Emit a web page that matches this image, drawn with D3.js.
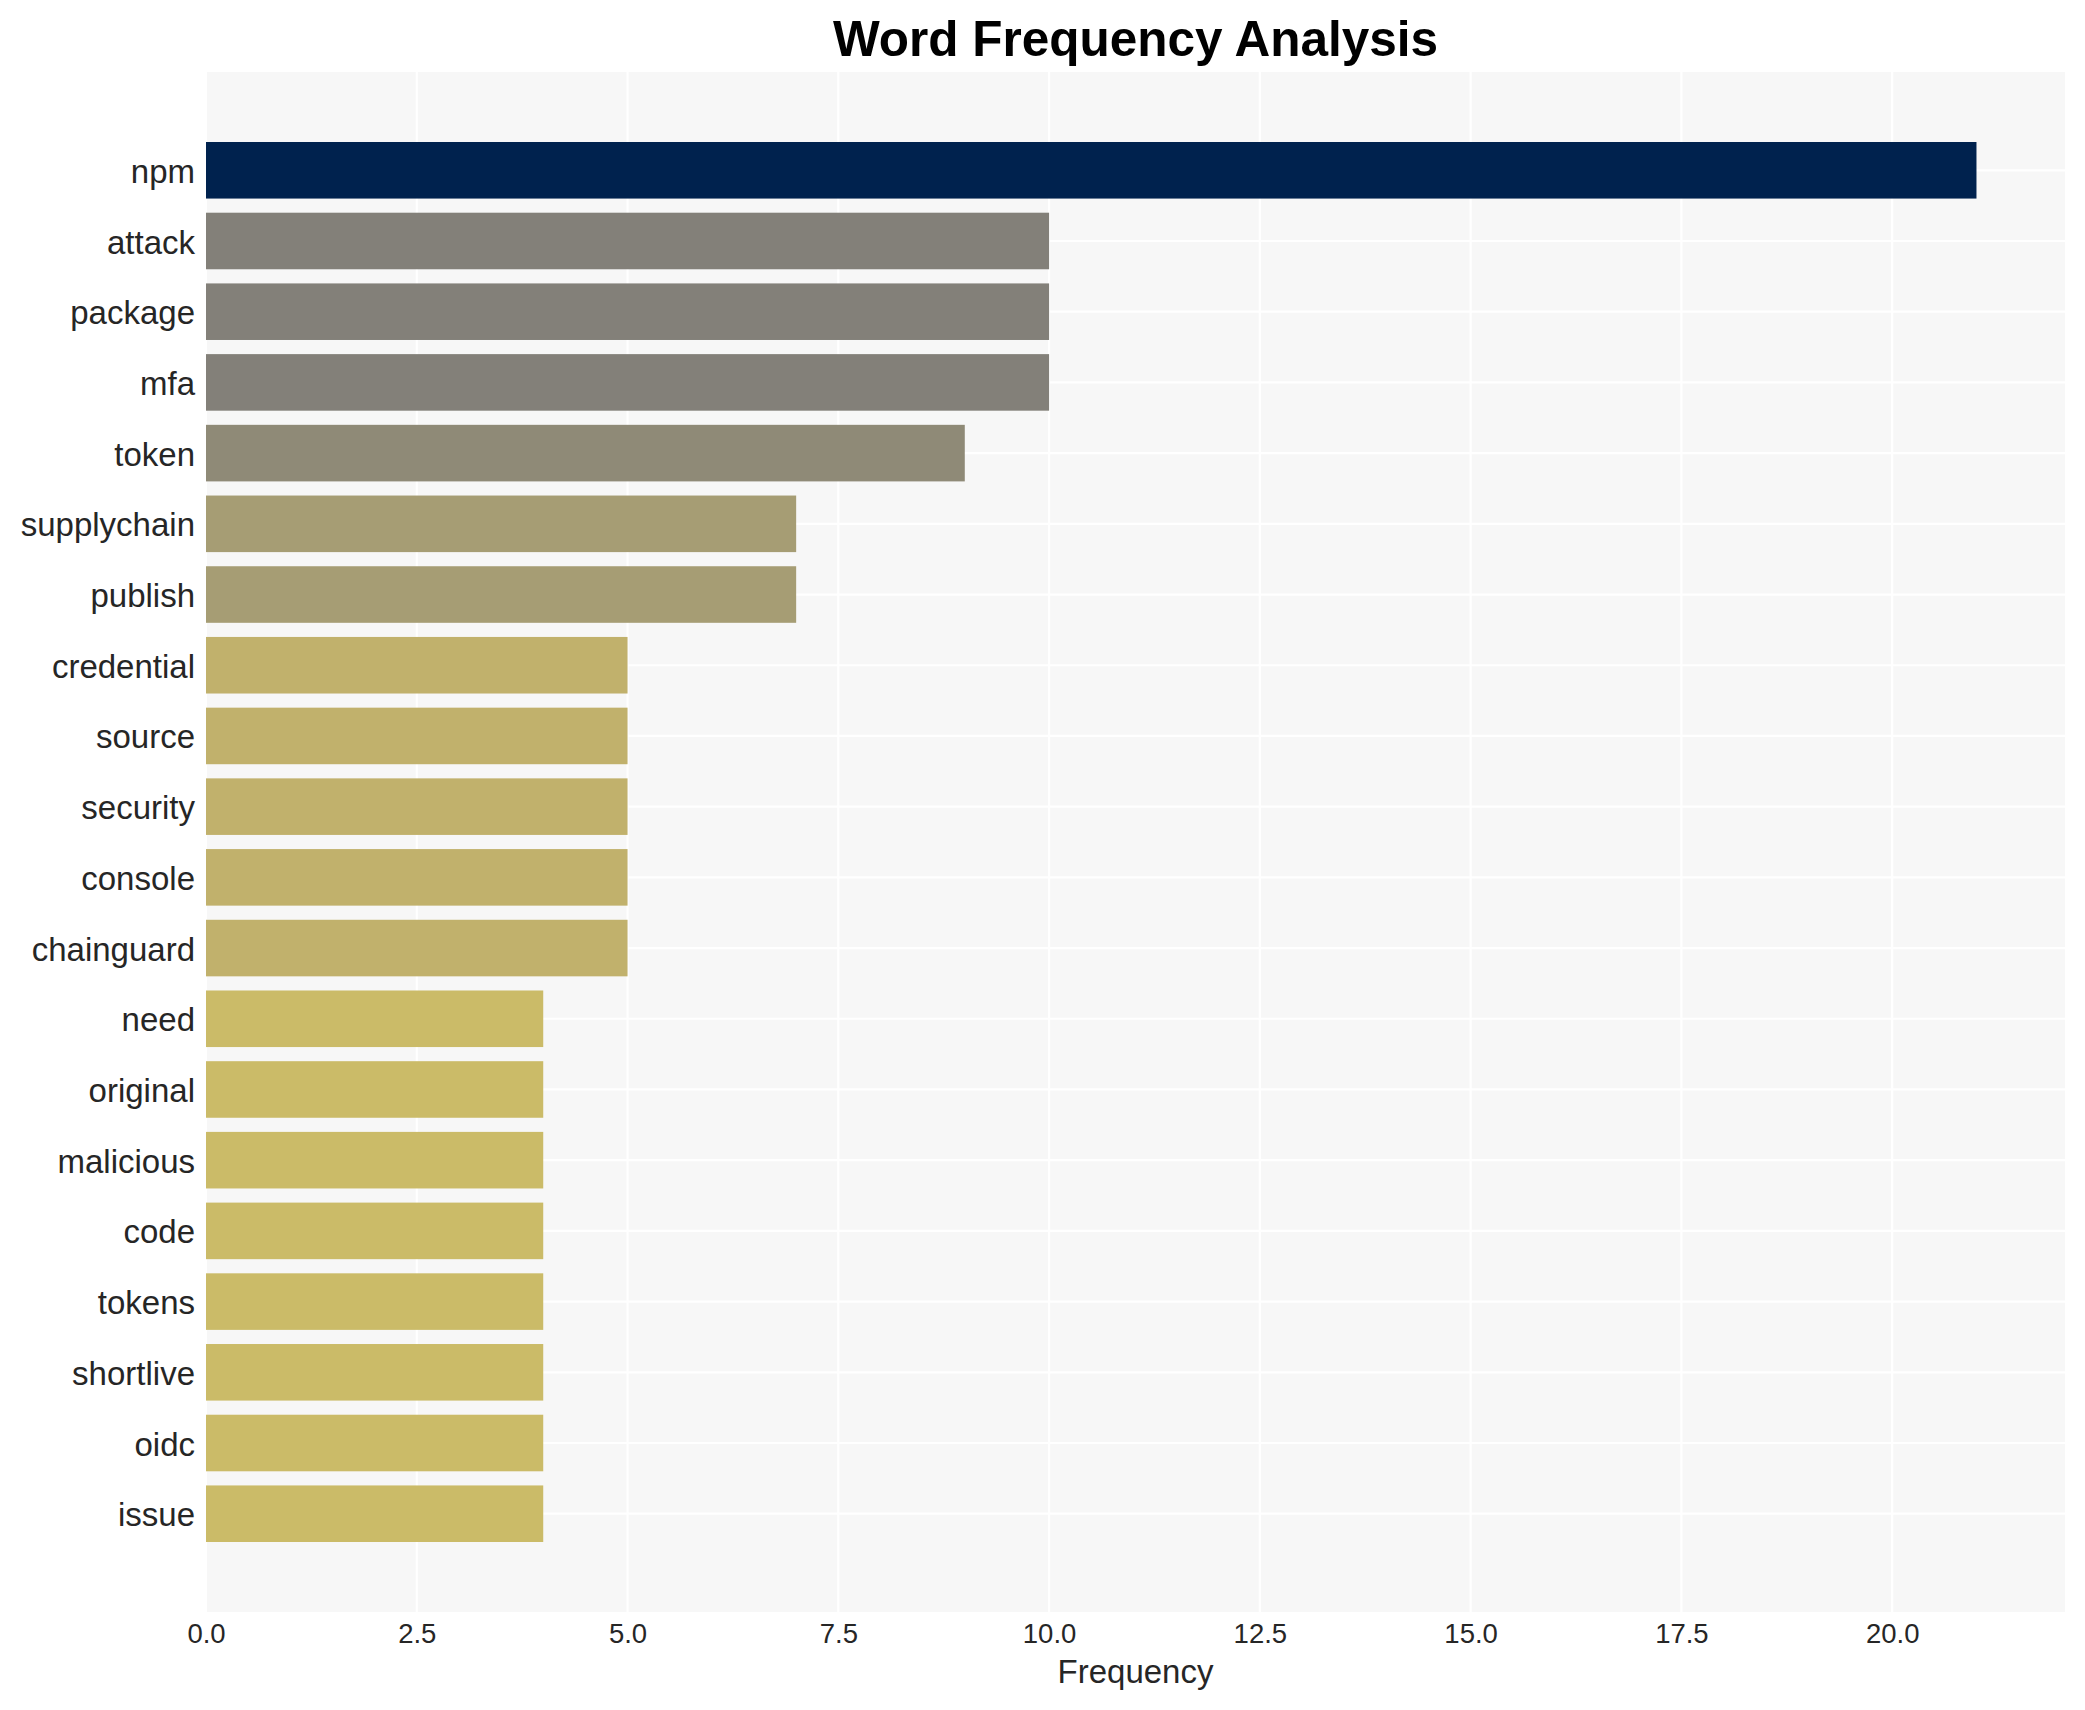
<!DOCTYPE html>
<html>
<head>
<meta charset="utf-8">
<script src="https://cdn.jsdelivr.net/npm/d3@7"></script>
<style>
  html, body { margin: 0; padding: 0; background: #fff; }
  svg text { font-family: "Liberation Sans", Arial, sans-serif; }
</style>
</head>
<body>
<div id="chart"></div>
<script>
// ── Data ──
const words = ['npm', 'attack', 'package', 'mfa', 'token', 'supplychain', 'publish',
  'credential', 'source', 'security', 'console', 'chainguard', 'need', 'original',
  'malicious', 'code', 'tokens', 'shortlive', 'oidc', 'issue'];
const counts = [21, 10, 10, 10, 9, 7, 7, 5, 5, 5, 5, 5, 4, 4, 4, 4, 4, 4, 4, 4];
const xTicks = [0, 2.5, 5, 7.5, 10, 12.5, 15, 17.5, 20];

const W = 2085, H = 1710;
const M = { left: 206, right: 2065, top: 72, bottom: 1612 };

const svg = d3.select('#chart').append('svg')
  .attr('width', W).attr('height', H);

svg.append('rect').attr('width', W).attr('height', H).attr('fill', '#ffffff');

// ── Scales ──
const x = d3.scaleLinear()
  .domain([0, d3.max(counts) * 1.05])
  .range([M.left, M.right]);

const y = d3.scaleBand()
  .domain(words)
  .range([M.top, M.bottom])
  .paddingInner(0.2)
  .paddingOuter(0.99);

// cividis-like ramp
const color = d3.scaleLinear()
  .domain([4, 5, 7, 9, 10, 21])
  .range(['#cbbb68', '#c1b16c', '#a69d74', '#8f8a77', '#838079', '#00224e']);

// ── Plot background + grid ──
svg.append('rect')
  .attr('x', M.left).attr('y', M.top)
  .attr('width', M.right - M.left).attr('height', M.bottom - M.top)
  .attr('fill', '#f7f7f7');

const grid = svg.append('g').attr('class', 'grid');
grid.selectAll('line.vx').data(xTicks).join('line')
  .attr('class', 'vx')
  .attr('x1', d => x(d)).attr('x2', d => x(d))
  .attr('y1', M.top).attr('y2', M.bottom)
  .attr('stroke', '#ffffff').attr('stroke-width', 2.2);
grid.selectAll('line.hy').data(words).join('line')
  .attr('class', 'hy')
  .attr('x1', M.left).attr('x2', M.right)
  .attr('y1', d => y(d) + y.bandwidth() / 2).attr('y2', d => y(d) + y.bandwidth() / 2)
  .attr('stroke', '#ffffff').attr('stroke-width', 2.2);

// ── Bars ──
svg.append('g').selectAll('rect').data(words).join('rect')
  .attr('x', x(0))
  .attr('y', d => y(d))
  .attr('width', (d, i) => x(counts[i]) - x(0))
  .attr('height', y.bandwidth())
  .attr('fill', (d, i) => color(counts[i]));

// ── Axes ──
const xAxis = svg.append('g')
  .attr('transform', `translate(0,${M.bottom})`)
  .call(d3.axisBottom(x).tickValues(xTicks).tickFormat(d3.format('.1f')).tickSize(0).tickPadding(11));
xAxis.select('.domain').remove();
xAxis.selectAll('text')
  .attr('font-size', 27.5).attr('fill', '#262626')
  .attr('dy', '0.71em');

const yAxis = svg.append('g')
  .attr('transform', `translate(${M.left},0)`)
  .call(d3.axisLeft(y).tickSize(0).tickPadding(11));
yAxis.select('.domain').remove();
yAxis.selectAll('text')
  .attr('font-size', 33).attr('fill', '#262626')
  .attr('dy', '0.38em');

// ── Titles ──
svg.append('text')
  .attr('x', (M.left + M.right) / 2).attr('y', 56)
  .attr('text-anchor', 'middle')
  .attr('font-size', 49.5).attr('font-weight', 'bold').attr('fill', '#000')
  .text('Word Frequency Analysis');

svg.append('text')
  .attr('x', (M.left + M.right) / 2).attr('y', 1683)
  .attr('text-anchor', 'middle')
  .attr('font-size', 33).attr('fill', '#262626')
  .text('Frequency');
</script>
</body>
</html>
